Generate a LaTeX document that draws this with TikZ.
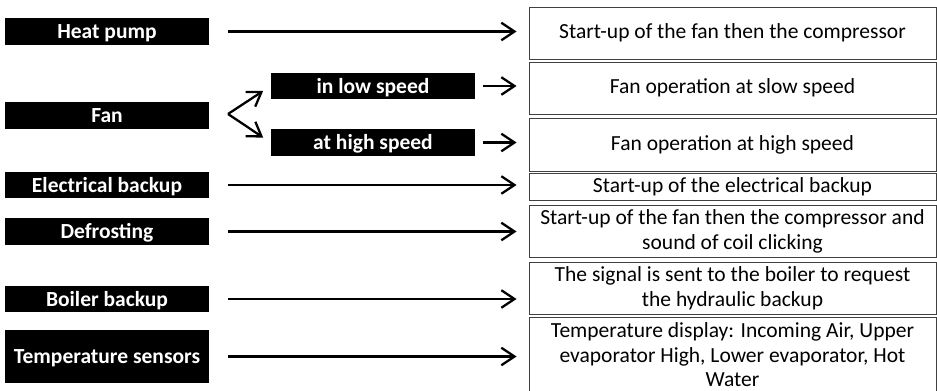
\documentclass[tikz,border=0pt]{standalone}
\usepackage{fontspec}
\setmainfont{Carlito}
\usepackage{tikz}
\usetikzlibrary{arrows.meta}

\newcommand\pxu{0.02cm}

\begin{document}
\begin{tikzpicture}[x=\pxu, y=-\pxu,
  font=\fontsize{12.25}{14.2}\selectfont,
  cause/.style={fill=black, text=white, font=\fontsize{12.25}{14.2}\selectfont\bfseries,
    inner sep=0pt, text height=9.5pt, text depth=1.5pt, minimum width=204*\pxu},
  effect/.style={draw=black!75, line width=0.5pt, inner sep=0pt, align=center,
    minimum width=407*\pxu},
  link/.style={line width=1.3pt, -{Straight Barb[length=7.5pt, width=10pt]}}]
\useasboundingbox (0,0) rectangle (937,390);
% Triggers (left column)
\node[cause, minimum height=27*\pxu] (hp) at (107,31.5) {Heat pump};
\node[cause, minimum height=27*\pxu] (fan) at (107,115.5) {Fan};
\node[cause, minimum height=26*\pxu] (eb) at (107,185) {Electrical backup};
\node[cause, minimum height=27*\pxu] (def) at (107,231.5) {Defrosting};
\node[cause, minimum height=26*\pxu] (bb) at (107,299) {Boiler backup};
\node[cause, minimum height=53*\pxu] (ts) at (107,356.5) {Temperature sensors};
% Fan speeds
\node[cause, minimum height=26*\pxu] (low) at (373,86) {in low speed};
\node[cause, minimum height=27*\pxu] (high) at (373,142.5) {at high speed};
% Responses (right column)
\node[effect, minimum height=52*\pxu] (r1) at (732.5,33) {Start-up of the fan then the compressor};
\node[effect, minimum height=52*\pxu] (r2) at (732.5,88) {Fan operation at slow speed};
\node[effect, minimum height=53*\pxu] (r3) at (732.5,144.5) {Fan operation at high speed};
\node[effect, minimum height=27*\pxu] (r4) at (732.5,186.5) {Start-up of the electrical backup};
\node[effect, minimum height=52*\pxu] (r5) at (732.5,231)
  {Start-up of the fan then the compressor and\\sound of coil clicking};
\node[effect, minimum height=52*\pxu] (r6) at (732.5,288)
  {The signal is sent to the boiler to request\\the hydraulic backup};
\node[effect, minimum height=76*\pxu, font=\fontsize{12.25}{13.9}\selectfont] (r7) at (732.5,355)
  {Temperature display: Incoming Air, Upper\\evaporator High, Lower evaporator, Hot\\Water};
% Arrows
\coordinate (fork) at (228,114);
\draw[link, shorten <=19*\pxu, shorten >=12*\pxu] (hp.east) -- (hp.east -| r1.west);
\draw[link, shorten >=9*\pxu] (fork) -- (low.west);
\draw[link, shorten >=9*\pxu] (fork) -- (high.west);
\draw[link, shorten <=8*\pxu, shorten >=12*\pxu] (low.east) -- (low.east -| r2.west);
\draw[link, shorten <=8*\pxu, shorten >=12*\pxu] (high.east) -- (high.east -| r3.west);
\draw[link, shorten <=19*\pxu, shorten >=12*\pxu] (eb.east) -- (eb.east -| r4.west);
\draw[link, shorten <=19*\pxu, shorten >=12*\pxu] (def.east) -- (def.east -| r5.west);
\draw[link, shorten <=19*\pxu, shorten >=12*\pxu] (bb.east) -- (bb.east -| r6.west);
\draw[link, shorten <=19*\pxu, shorten >=12*\pxu] (ts.east) -- (ts.east -| r7.west);
\end{tikzpicture}
\end{document}
